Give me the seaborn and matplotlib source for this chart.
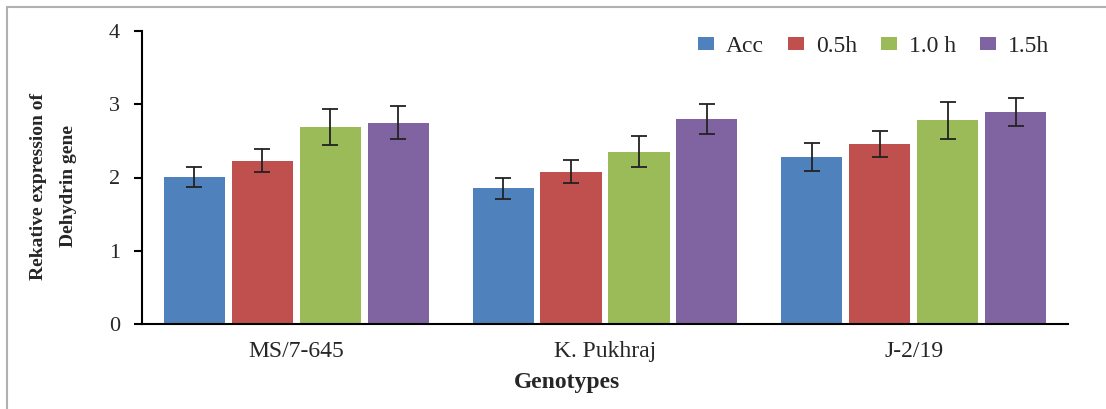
import matplotlib
matplotlib.use("Agg")
import matplotlib.pyplot as plt
import seaborn as sns
import pandas as pd
import numpy as np
from matplotlib.patches import Rectangle

genotypes = ["MS/7-645", "K. Pukhraj", "J-2/19"]
treatments = ["Acc", "0.5h", "1.0 h", "1.5h"]
acc = [2.01, 1.85, 2.28]
h05 = [2.23, 2.08, 2.46]
h10 = [2.69, 2.35, 2.78]
h15 = [2.75, 2.80, 2.89]
err_acc = [0.14, 0.15, 0.19]
err_h05 = [0.16, 0.16, 0.18]
err_h10 = [0.25, 0.21, 0.25]
err_h15 = [0.22, 0.21, 0.19]
colors = ["#4F81BD", "#C0504D", "#9BBB59", "#8064A2"]

series = [acc, h05, h10, h15]
errs = [err_acc, err_h05, err_h10, err_h15]
rows = []
for t, vals, es in zip(treatments, series, errs):
    for g, v, e in zip(genotypes, vals, es):
        rows.append({"Genotype": g, "Treatment": t, "value": v, "err": e})
df = pd.DataFrame(rows)

sns.set_style("white")
plt.rcParams["font.family"] = ["Liberation Serif", "DejaVu Serif"]

fig = plt.figure(figsize=(11.06, 4.09), dpi=100)
ax = fig.add_axes([142 / 1106, 1 - 324 / 409, (1068 - 142) / 1106, (324 - 31) / 409])

sns.barplot(data=df, x="Genotype", y="value", hue="Treatment", order=genotypes,
            hue_order=treatments, palette=colors, width=0.88, gap=0.1,
            errorbar=None, saturation=1, ax=ax, edgecolor="none")

# error bars from bar patches
for cont, t in zip(ax.containers, treatments):
    sub = df[df.Treatment == t].set_index("Genotype").loc[genotypes]
    xs = [p.get_x() + p.get_width() / 2 for p in cont.patches]
    ax.errorbar(xs, sub["value"].values, yerr=sub["err"].values, fmt="none",
                ecolor="#222222", elinewidth=1.3, capsize=6, capthick=1.3)

ax.set_ylim(0, 4)
ax.set_xlim(-0.5, 2.5)
ax.set_yticks([0, 1, 2, 3, 4])
ax.set_xticks([-0.5, 0.5, 1.5, 2.5], minor=True)
ax.tick_params(axis="x", which="major", length=0, labelsize=17, pad=12)
ax.tick_params(axis="x", which="minor", length=5, width=1.5, direction="out", color="black")
ax.tick_params(axis="y", length=6, width=1.5, direction="out", color="black", labelsize=16, pad=10)
ax.tick_params(axis="y", left=True)
for s in ["top", "right"]:
    ax.spines[s].set_visible(False)
for s in ["left", "bottom"]:
    ax.spines[s].set_color("black")
    ax.spines[s].set_linewidth(1.5)

ax.set_xlabel("Genotypes", fontsize=17, fontweight="bold")
ax.xaxis.set_label_coords(0.459, -0.165)
ax.set_ylabel("Rekative expression of\nDehydrin gene", fontsize=14, fontweight="bold",
              linespacing=2.0)
ax.yaxis.set_label_coords(-0.07, 0.47)

leg = ax.legend(loc="upper right", bbox_to_anchor=(1.003, 1.055), ncol=4, frameon=False,
                fontsize=17, handlelength=0.7, handleheight=0.45, handletextpad=0.5,
                columnspacing=1.0)

fig.add_artist(Rectangle((7 / 1106, -0.1), 1.2, (409 - 7) / 409 + 0.1,
                         transform=fig.transFigure, fill=False,
                         edgecolor="#b0b0b0", linewidth=1.5))

fig.savefig("out.png", dpi=100)
